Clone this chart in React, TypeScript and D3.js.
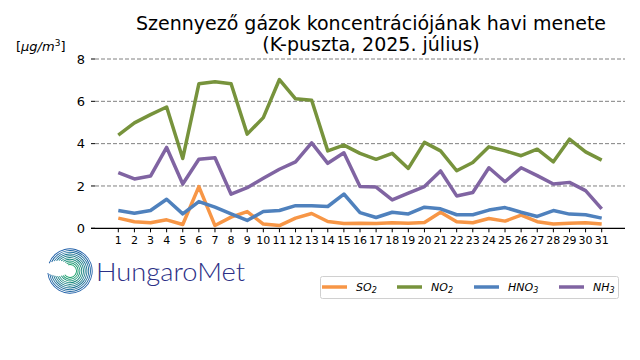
import React from "react";
import * as d3 from "d3";

const days = d3.range(1, 32);
const so2 = [0.48,0.31,0.26,0.4,0.18,1.97,0.13,0.53,0.79,0.2,0.13,0.48,0.7,0.32,0.23,0.24,0.23,0.26,0.24,0.27,0.76,0.31,0.26,0.46,0.34,0.62,0.31,0.2,0.24,0.26,0.2];
const no2 = [4.4,4.98,5.37,5.73,3.3,6.83,6.93,6.83,4.45,5.23,7.03,6.12,6.05,3.66,3.93,3.54,3.26,3.54,2.83,4.06,3.66,2.72,3.11,3.85,3.66,3.43,3.74,3.14,4.21,3.61,3.22];
const hno3 = [0.84,0.71,0.84,1.37,0.68,1.26,1.0,0.68,0.37,0.79,0.84,1.07,1.06,1.03,1.62,0.74,0.51,0.76,0.68,1.0,0.92,0.64,0.64,0.86,0.98,0.76,0.56,0.84,0.67,0.64,0.48];
const nh3 = [2.63,2.33,2.47,3.82,2.09,3.26,3.33,1.61,1.92,2.36,2.79,3.14,4.04,3.07,3.57,1.97,1.95,1.34,1.66,1.97,2.71,1.53,1.69,2.86,2.2,2.86,2.49,2.09,2.17,1.78,0.92];
const yTicks = [0, 2, 4, 6, 8];
const seriesNames = ["SO", "NO", "HNO", "NH"];
const seriesSubs = ["2", "2", "3", "3"];
const seriesColors = ["#f79646", "#77933c", "#4f81bd", "#8064a2"];
const seriesData = [so2, no2, hno3, nh3];

export default function App() {
  const x = d3.scaleLinear().domain([1, 31]).range([118.3, 601.7]);
  const y = d3.scaleLinear().domain([0, 8]).range([228.3, 59]);
  const line = d3.line<number>().x((_, i) => x(days[i])).y((d) => y(d));
  const font = "DejaVu Sans, sans-serif";
  const legendX = [322, 397, 474, 559];

  const arcs = d3.range(10).map((i) => {
    const r = 6 + i * 1.75;
    const a0 = -Math.PI * 0.1 - i * 0.1;
    const a1 = Math.PI * 1.3 + i * 0.06;
    const arc = d3.arc()({ innerRadius: r, outerRadius: r + 0.9, startAngle: a0, endAngle: a1 } as any);
    const c = d3.interpolateRgb("#1aa06a", "#1f5fa8")(i / 9);
    return { d: arc as string, c };
  });

  return (
    <svg width={640} height={360} style={{ position: "absolute", left: 0, top: 0, background: "#fff" }} fontFamily={font}>
      <rect width={640} height={360} fill="#fff" />
      <text x={371} y={30} textAnchor="middle" fontSize={19} fill="#000">Szennyező gázok koncentrációjának havi menete</text>
      <text x={371} y={51} textAnchor="middle" fontSize={19} fill="#000">(K-puszta, 2025. július)</text>
      <text x={16} y={51} fontSize={13} fill="#000">
        [<tspan fontStyle="italic">μg</tspan><tspan fontStyle="italic">/m</tspan><tspan dy={-5} fontSize={9}>3</tspan><tspan dy={5}>]</tspan>
      </text>
      {yTicks.map((t) => (
        <g key={t}>
          {t > 0 && <line x1={95} x2={625} y1={y(t)} y2={y(t)} stroke="#808080" strokeWidth={1} strokeDasharray="4,2" />}
          <line x1={91} x2={95} y1={y(t)} y2={y(t)} stroke="#000" strokeWidth={1} />
          <text x={85} y={y(t)} dy="0.36em" textAnchor="end" fontSize={13} fill="#000">{t}</text>
        </g>
      ))}
      <line x1={91} x2={625} y1={y(0)} y2={y(0)} stroke="#000" strokeWidth={1.2} />
      {days.map((d) => (
        <g key={d}>
          <line x1={x(d)} x2={x(d)} y1={y(0)} y2={y(0) + 4} stroke="#000" />
          <text x={x(d)} y={y(0) + 16} textAnchor="middle" fontSize={11} fill="#000">{d}</text>
        </g>
      ))}
      {seriesData.map((s, i) => (
        <path key={i} d={line(s) as string} fill="none" stroke={seriesColors[i]} strokeWidth={3.5} strokeLinejoin="round" />
      ))}
      <rect x={320.5} y={276.5} width={298} height={22} rx={2} fill="#fff" stroke="#d0d0d0" />
      {seriesNames.map((n, i) => (
        <g key={n}>
          <line x1={legendX[i]} x2={legendX[i] + 25} y1={287} y2={287} stroke={seriesColors[i]} strokeWidth={3.5} />
          <text x={legendX[i] + 34} y={291} fontSize={11} fontStyle="italic" fill="#000">
            {n}<tspan dy={2} fontSize={8}>{seriesSubs[i]}</tspan>
          </text>
        </g>
      ))}
      <g transform="translate(70,271)">
        {arcs.map((a, i) => (
          <path key={i} d={a.d} fill={a.c} />
        ))}
      </g>
      <text x={96} y={281} fontSize={26} fill="#2b2f86" fontFamily="Lato, sans-serif" fontWeight={300} textLength={149} lengthAdjust="spacingAndGlyphs">HungaroMet</text>
    </svg>
  );
}
